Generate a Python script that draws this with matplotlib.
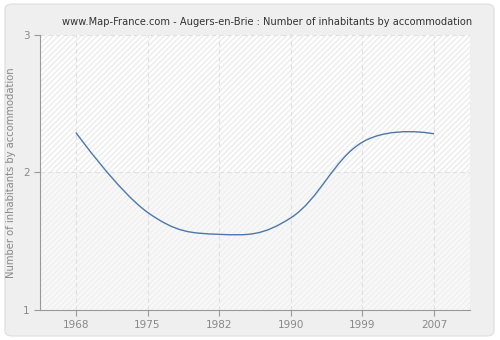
import matplotlib
matplotlib.use("Agg")
import matplotlib.pyplot as plt
from matplotlib.path import Path
from matplotlib.patches import PathPatch, FancyBboxPatch

years = ["1968", "1975", "1982", "1990", "1999", "2007"]
values = [2.29, 1.71, 1.55, 1.67, 2.22, 2.28]


def spline_path(xs, ys, smoothing=1.5):
    # Bezier control points, same idea as a highcharts "spline" series (no clamping)
    denom = smoothing + 1
    n = len(xs)
    left = [None] * n
    right = [None] * n
    for i in range(n):
        if 0 < i < n - 1:
            lx = (smoothing * xs[i] + xs[i - 1]) / denom
            ly = (smoothing * ys[i] + ys[i - 1]) / denom
            rx = (smoothing * xs[i] + xs[i + 1]) / denom
            ry = (smoothing * ys[i] + ys[i + 1]) / denom
            corr = ((ry - ly) * (rx - xs[i])) / (rx - lx) + ys[i] - ry
            left[i] = (lx, ly + corr)
            right[i] = (rx, ry + corr)
        else:
            left[i] = (xs[i], ys[i])
            right[i] = (xs[i], ys[i])
    verts = [(xs[0], ys[0])]
    codes = [Path.MOVETO]
    for i in range(1, n):
        verts += [right[i - 1], left[i], (xs[i], ys[i])]
        codes += [Path.CURVE4] * 3
    return Path(verts, codes)


fig = plt.figure(figsize=(5, 3.4), dpi=100)
fig.patch.set_facecolor("white")
fig.patches.append(FancyBboxPatch((0.01, 0.012), 0.978, 0.976, boxstyle="round,pad=0,rounding_size=0.015",
                                  transform=fig.transFigure, facecolor="#efefef", edgecolor="#e2e2e2",
                                  linewidth=1, zorder=-10))

ax = fig.add_axes([0.08, 0.088, 0.86, 0.810])
ax.set_facecolor("white")
x = list(range(len(years)))

ax.axhspan(1, 2, facecolor="#f8f8f8", edgecolor="#f0f0f0", hatch="//////", linewidth=0, zorder=0)
ax.axhspan(2, 3, facecolor="#ffffff", edgecolor="#ececec", hatch="//////", linewidth=0, zorder=0)

for xi in x:
    ax.axvline(xi, color="#e0e0e0", linestyle=(0, (4, 3)), linewidth=0.8, zorder=1)
ax.axhline(2, color="#e0e0e0", linestyle=(0, (4, 3)), linewidth=0.8, zorder=1)
ax.axhline(3, color="#e0e0e0", linestyle=(0, (4, 3)), linewidth=0.8, zorder=1)

ax.add_patch(PathPatch(spline_path(x, values), facecolor="none", edgecolor="#4a78ad",
                       linewidth=1.0, zorder=3))

ax.set_xlim(-0.5, 5.5)
ax.set_ylim(1, 3)
ax.set_xticks(x)
ax.set_xticklabels(years)
ax.set_yticks([1, 2, 3])
ax.tick_params(colors="#999999", labelcolor="#888888", labelsize=7.5, length=4, width=0.8)
for s in ["top", "right"]:
    ax.spines[s].set_visible(False)
for s in ["left", "bottom"]:
    ax.spines[s].set_color("#999999")
    ax.spines[s].set_linewidth(0.8)

ax.set_ylabel("Number of inhabitants by accommodation", color="#888888", fontsize=7.2, labelpad=5)
fig.text(0.534, 0.935, "www.Map-France.com - Augers-en-Brie : Number of inhabitants by accommodation",
         fontsize=7.1, color="#333333", ha="center", va="center")

fig.savefig("out.png", dpi=100, facecolor=fig.get_facecolor())
